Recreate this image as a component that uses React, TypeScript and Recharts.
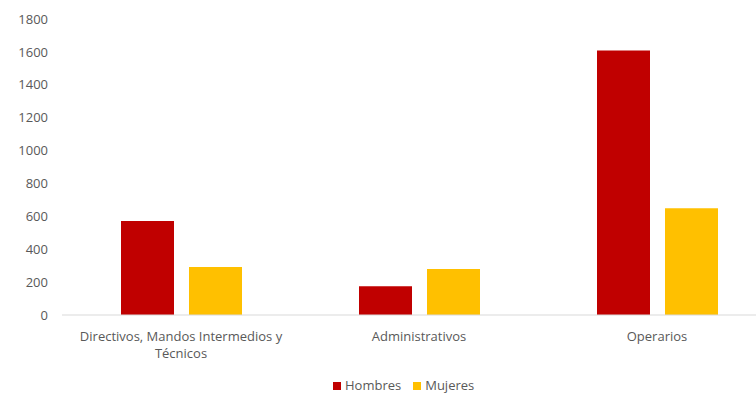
import { BarChart, Bar, XAxis, YAxis, Text } from 'recharts';

const categories = ['Directivos, Mandos Intermedios y Técnicos', 'Administrativos', 'Operarios'];
const hombres = [572, 175, 1608];
const mujeres = [292, 280, 649];
const yTicks = [0, 200, 400, 600, 800, 1000, 1200, 1400, 1600, 1800];

const series = [
  { key: 'hombres', name: 'Hombres', color: '#C00000' },
  { key: 'mujeres', name: 'Mujeres', color: '#FFC000' },
];

const data = categories.map((cat, i) => ({ cat, hombres: hombres[i], mujeres: mujeres[i] }));

const FONT = '"Open Sans", sans-serif';
const TEXT_COLOR = '#595959';

const CategoryTick = ({ x, y, payload }: any) => (
  <Text
    x={x}
    y={y + 18}
    width={228}
    textAnchor="middle"
    verticalAnchor="middle"
    lineHeight={17}
    fill={TEXT_COLOR}
    fontSize={13}
    fontFamily={FONT}
  >
    {payload.value}
  </Text>
);

export default function App() {
  return (
    <div style={{ position: 'absolute', left: 0, top: 0, width: 756, height: 393, overflow: 'hidden', background: '#fff' }}>
      <BarChart
        width={776}
        height={393}
        data={data}
        margin={{ top: 19, right: 0, bottom: 18, left: 0 }}
        barGap={15}
        barSize={53}
      >
        <YAxis
          width={62}
          domain={[0, 1800]}
          ticks={yTicks}
          axisLine={false}
          tickLine={false}
          tickSize={0}
          tickMargin={14}
          tick={{ fill: TEXT_COLOR, fontSize: 13, fontFamily: FONT }}
          interval={0}
        />
        <XAxis
          dataKey="cat"
          height={60}
          axisLine={{ stroke: '#D9D9D9', strokeWidth: 1 }}
          tickLine={false}
          tickSize={0}
          tickMargin={8}
          tick={<CategoryTick />}
          interval={0}
        />
        {series.map((s) => (
          <Bar key={s.key} dataKey={s.key} name={s.name} fill={s.color} isAnimationActive={false} />
        ))}
      </BarChart>
      <div
        style={{
          position: 'absolute',
          left: 333,
          top: 378,
          height: 15,
          lineHeight: '15px',
          display: 'flex',
          alignItems: 'center',
          fontFamily: FONT,
          fontSize: 13,
          color: TEXT_COLOR,
        }}
      >
        {series.map((s) => (
          <div key={s.key} style={{ display: 'flex', alignItems: 'center', marginRight: 12 }}>
            <span style={{ display: 'inline-block', width: 8, height: 8, background: s.color, marginRight: 4 }} />
            <span>{s.name}</span>
          </div>
        ))}
      </div>
    </div>
  );
}
